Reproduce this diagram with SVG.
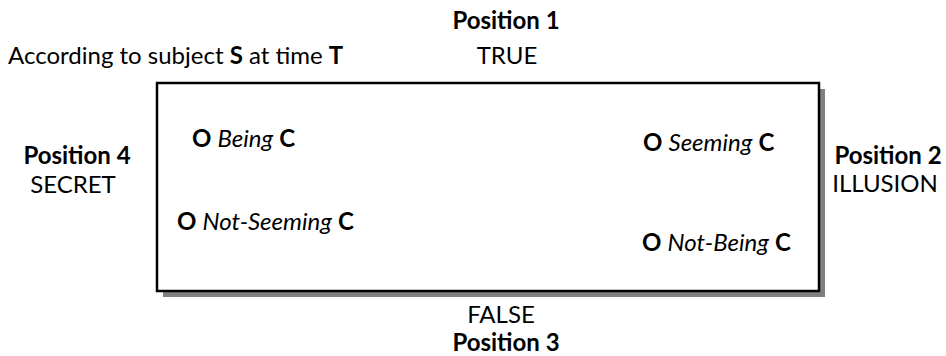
<svg xmlns="http://www.w3.org/2000/svg" width="946" height="356" viewBox="0 0 946 356">
<style>
text{font-family:Lato,"Liberation Sans",sans-serif;font-size:24px;fill:#000}
.b{font-weight:bold}
.i{font-style:italic}
.m{text-anchor:middle}
</style>
<rect width="946" height="356" fill="#fff"/>
<g id="box">
<rect x="163" y="89" width="662" height="208" fill="#808080"/>
<rect x="157" y="83" width="662" height="208" fill="#fff" stroke="#000" stroke-width="2.5"/>
</g>
<g id="header">
<text x="8" y="64">According to subject <tspan class="b">S</tspan> at time <tspan class="b">T</tspan></text>
</g>
<g id="position1">
<text class="b m" x="506" y="29">Position 1</text>
<text class="m" x="507" y="64">TRUE</text>
</g>
<g id="position2">
<text class="b m" x="888" y="164">Position 2</text>
<text class="m" x="885" y="192">ILLUSION</text>
</g>
<g id="position3">
<text class="m" x="501" y="323">FALSE</text>
<text class="b m" x="506" y="351">Position 3</text>
</g>
<g id="position4">
<text class="b m" x="77" y="164">Position 4</text>
<text class="m" x="73" y="193">SECRET</text>
</g>
<g id="being">
<text x="192" y="147"><tspan class="b">O</tspan> <tspan class="i">Being</tspan> <tspan class="b">C</tspan></text>
</g>
<g id="seeming">
<text x="643" y="151"><tspan class="b">O</tspan> <tspan class="i">Seeming</tspan> <tspan class="b">C</tspan></text>
</g>
<g id="notseeming">
<text x="177" y="230"><tspan class="b">O</tspan> <tspan class="i">Not-Seeming</tspan> <tspan class="b">C</tspan></text>
</g>
<g id="notbeing">
<text x="642" y="251"><tspan class="b">O</tspan> <tspan class="i">Not-Being</tspan> <tspan class="b">C</tspan></text>
</g>
<g id="connectors"/>
</svg>
